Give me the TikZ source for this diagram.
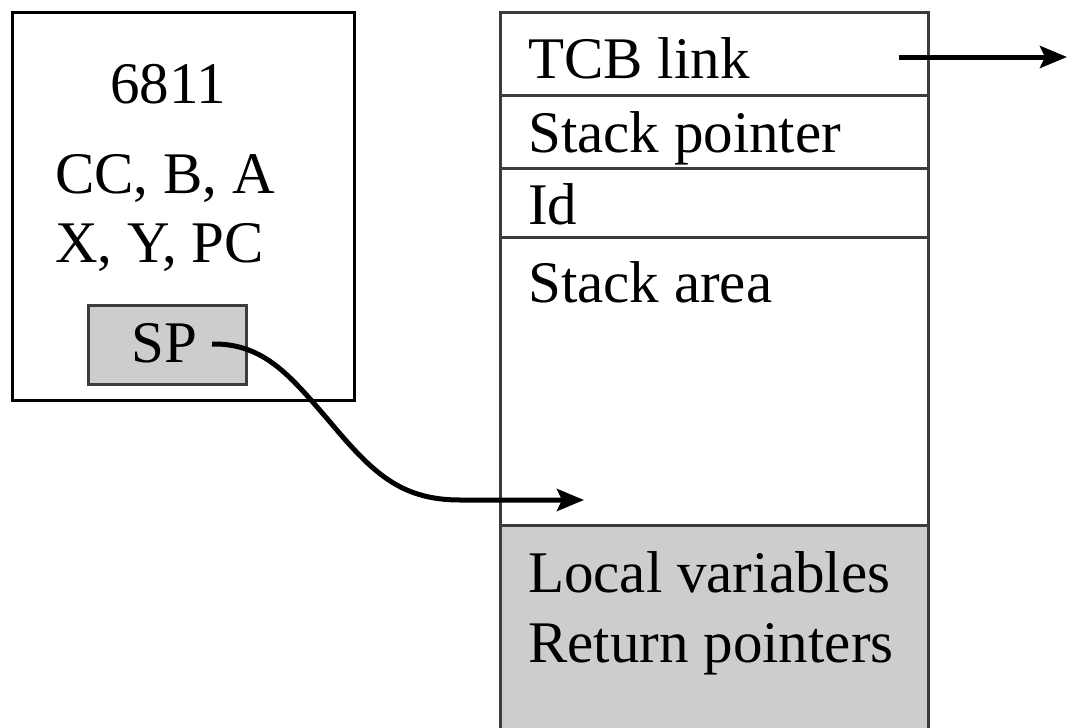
\documentclass[tikz,border=0pt]{standalone}
\usepackage{fontspec}
\setmainfont{Liberation Serif}
\usetikzlibrary{arrows.meta}
\definecolor{boxgray}{RGB}{205,205,207}
\definecolor{edge}{RGB}{60,60,60}
\tikzset{
  lbl/.style={anchor=base west, inner sep=0pt, font=\fontsize{59}{70}\selectfont},
  frame/.style={draw=edge, line width=3pt},
  arr/.style={draw=black, line width=5pt, -{Stealth[length=27pt,width=22pt,inset=5pt]}}
}
\begin{document}
\begin{tikzpicture}[x=1pt,y=-1pt]
\useasboundingbox (0,0) rectangle (1069,728);
% right structure
\fill[boxgray] (500,525) rectangle (928,728);
\draw[frame] (500,728) -- (500,12) -- (928,12) -- (928,728);
\draw[frame] (500,95) -- (928,95);
\draw[frame] (500,168) -- (928,168);
\draw[frame] (500,237) -- (928,237);
\draw[frame] (500,525) -- (928,525);
\node[lbl] (tcb) at (528,78) {TCB link};
\node[lbl] (stp) at (528,152) {Stack pointer};
\node[lbl] (id) at (528,224) {Id};
\node[lbl] (sta) at (528,302) {Stack area};
\node[lbl] (lv) at (528,592) {Local variables};
\node[lbl] (rp) at (528,662) {Return pointers};
% left box
\draw[frame, draw=black] (12,12) rectangle (354,400);
\node[lbl, anchor=base] (cpu) at (168,103) {6811};
\node[lbl] (regs1) at (55,193) {CC, B, A};
\node[lbl] (regs2) at (55,262) {X, Y, PC};
\draw[frame, fill=boxgray] (88,305) rectangle (246,384);
\node[lbl] (sp) at (131,362) {SP};
% arrows
\coordinate (tcbstart) at (899,57);
\coordinate (tcbend) at (1067,57);
\draw[arr] (tcbstart) -- (tcbend);
\coordinate (spstart) at (212,344);
\coordinate (spend) at (584,500);
\draw[arr] (spstart) .. controls (265,343) and (292,378) .. (330,422)
  .. controls (372,472) and (400,500) .. (460,500) -- (spend);
\end{tikzpicture}
\end{document}
